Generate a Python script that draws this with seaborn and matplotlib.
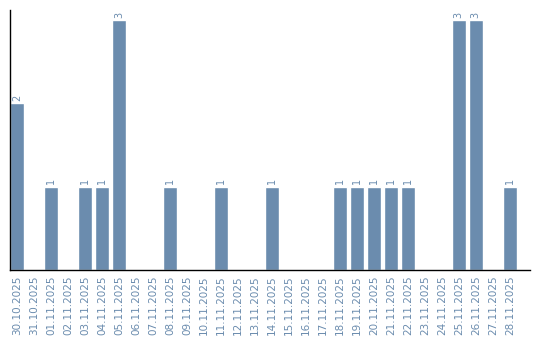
import matplotlib
matplotlib.use("Agg")
import matplotlib.pyplot as plt
import seaborn as sns
import pandas as pd

dates = ["30.10.2025", "31.10.2025", "01.11.2025", "02.11.2025", "03.11.2025",
         "04.11.2025", "05.11.2025", "06.11.2025", "07.11.2025", "08.11.2025",
         "09.11.2025", "10.11.2025", "11.11.2025", "12.11.2025", "13.11.2025",
         "14.11.2025", "15.11.2025", "16.11.2025", "17.11.2025", "18.11.2025",
         "19.11.2025", "20.11.2025", "21.11.2025", "22.11.2025", "23.11.2025",
         "24.11.2025", "25.11.2025", "26.11.2025", "27.11.2025", "28.11.2025"]
counts = [2, 0, 1, 0, 1, 1, 3, 0, 0, 1, 0, 0, 1, 0, 0, 1, 0, 0, 0, 1,
          1, 1, 1, 1, 0, 0, 3, 3, 0, 1]

df = pd.DataFrame({"date": dates, "count": counts})

sns.set_style("white")
plt.rcParams['font.family'] = ['DejaVu Sans']

color = "#6b8cae"
fig = plt.figure(figsize=(5.4, 3.4), dpi=100)
ax = fig.add_axes([10/540, 70/340, 520/540, 260/340])
sns.barplot(data=df, x="date", y="count", color=color, width=14/17,
            saturation=1, ax=ax)

for i, v in enumerate(counts):
    if v > 0:
        ax.text(i, v + 0.03, str(v), rotation=90, ha="center", va="bottom",
                fontsize=7, color=color)

ax.set_xlim(-0.41, 29.59 + 0.6)
ax.set_ylim(0, 3.12)
ax.set_xlabel("")
ax.set_ylabel("")
ax.set_yticks([])
ax.tick_params(axis="x", length=0, pad=4, labelsize=7.5, labelcolor=color)
for lbl in ax.get_xticklabels():
    lbl.set_rotation(90)
for s in ["top", "right"]:
    ax.spines[s].set_visible(False)
for s in ["left", "bottom"]:
    ax.spines[s].set_color("black")
    ax.spines[s].set_linewidth(1)

fig.savefig("out.png", dpi=100)
